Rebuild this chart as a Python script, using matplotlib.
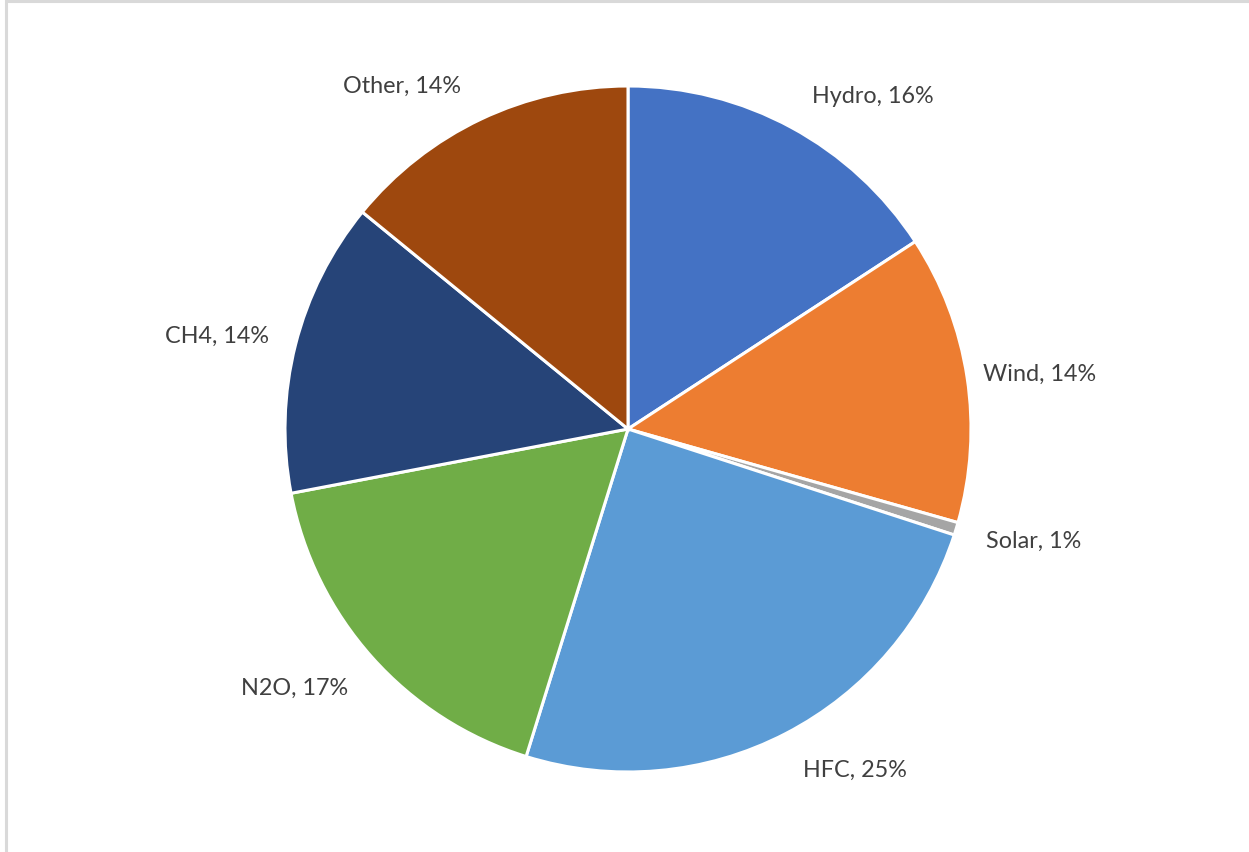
import matplotlib
matplotlib.use("Agg")
import matplotlib.pyplot as plt
from matplotlib.patches import Rectangle

categories = ["Hydro", "Wind", "Solar", "HFC", "N2O", "CH4", "Other"]
values = [15.8, 13.6, 0.6, 24.8, 17.2, 13.9, 14.1]
colors = ["#4472C4", "#ED7D31", "#A5A5A5", "#5B9BD5", "#70AD47", "#264478", "#9E480E"]
label_text = ["Hydro, 16%", "Wind, 14%", "Solar, 1%", "HFC, 25%", "N2O, 17%", "CH4, 14%", "Other, 14%"]
# label positions (in pie radius units) approximating Excel best-fit placement
label_pos = [(0.714, 0.971), (1.201, 0.163), (1.184, -0.324), (0.662, -0.991),
             (-0.971, -0.752), (-1.198, 0.274), (-0.659, 1.003)]

W, H = 1249, 853
fig = plt.figure(figsize=(W / 100, H / 100), dpi=100)
fig.patch.set_facecolor("white")

# chart border
fig.add_artist(Rectangle((6 / W, -0.01), 1.05, 1 - 2 / H + 0.01, transform=fig.transFigure,
                         fill=False, edgecolor="#D9D9D9", linewidth=2.2))

ax = fig.add_axes([0, 0, 1, 1])
cx, cy, R = 628, 430, 343
wedges, _ = ax.pie(values, colors=colors, startangle=90, counterclock=False,
                   wedgeprops=dict(edgecolor="white", linewidth=2.2))
for txt, (lx, ly) in zip(label_text, label_pos):
    ax.text(lx, ly, txt, ha="center", va="center", fontsize=16.8, color="#404040",
            family=["Lato", "DejaVu Sans"])

ax.set_aspect("auto")
ax.set_xlim((0 - cx) / R, (W - cx) / R)
ax.set_ylim((cy - H) / R, cy / R)
ax.axis("off")

fig.savefig("out.png", dpi=100, facecolor="white")
